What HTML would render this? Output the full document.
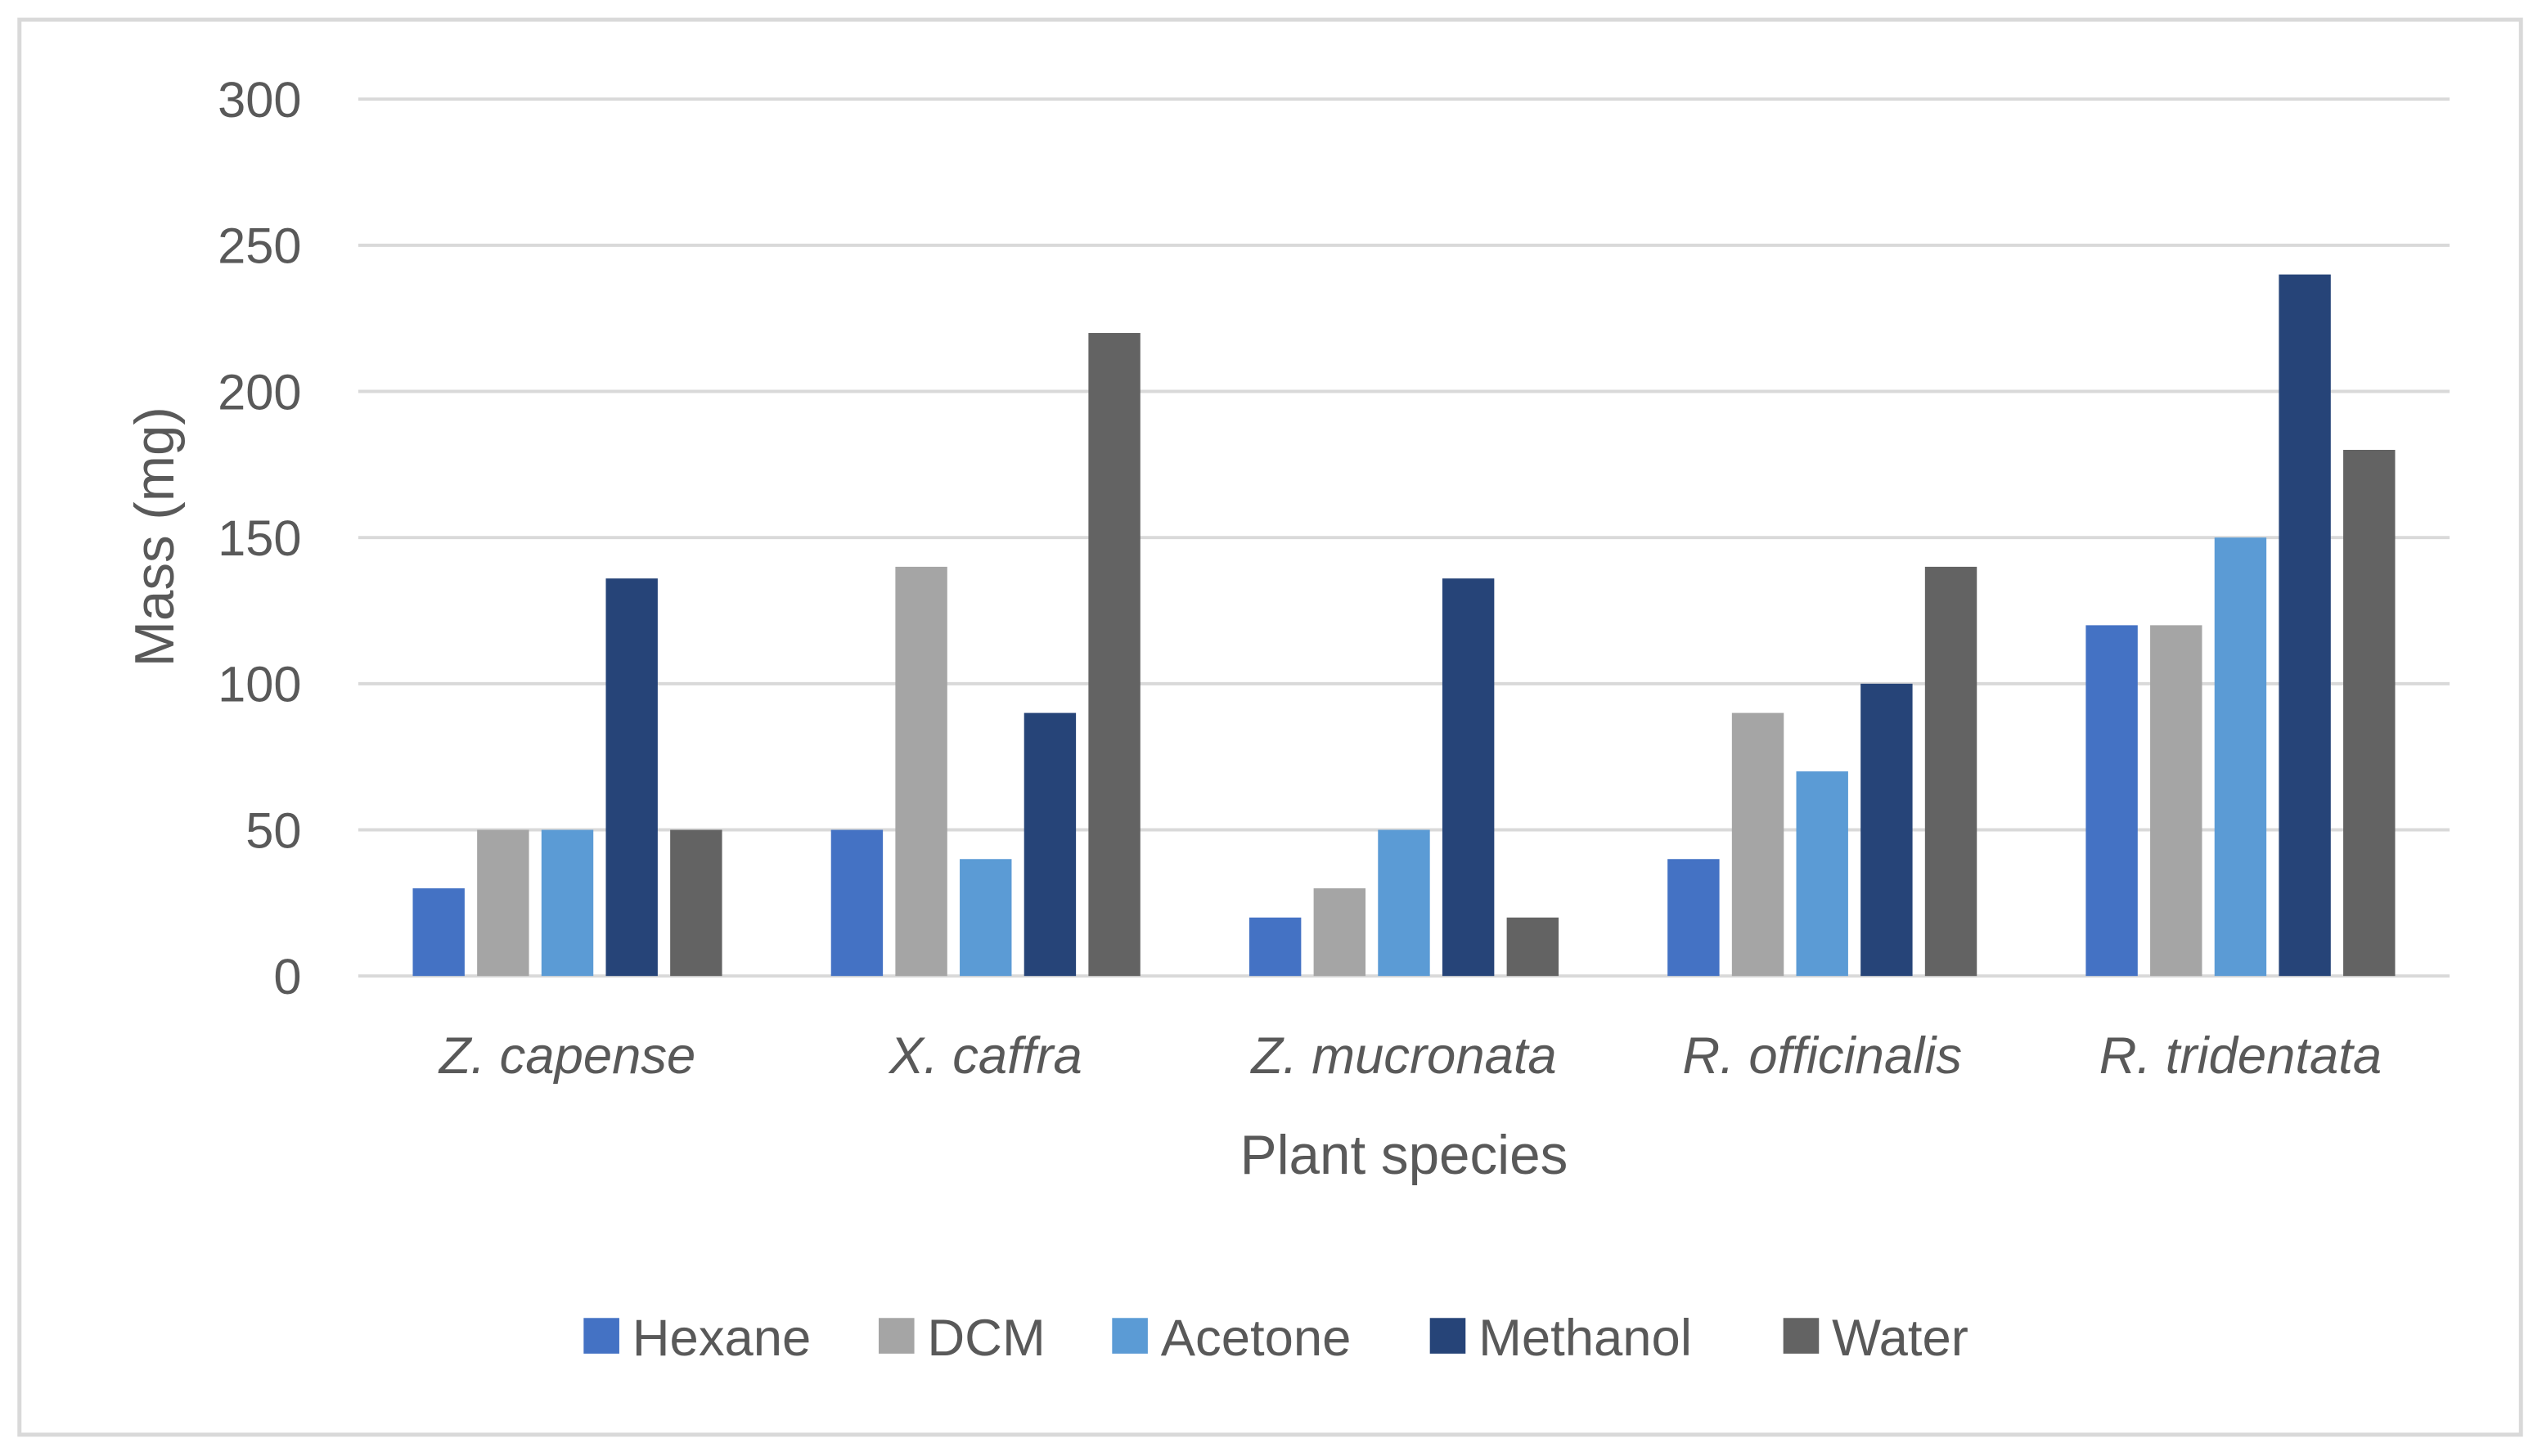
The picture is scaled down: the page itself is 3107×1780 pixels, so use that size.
<!DOCTYPE html>
<html><head><meta charset="utf-8"><style>
html,body{margin:0;padding:0;background:#fff}
svg{display:block}
text{font-family:"Liberation Sans",sans-serif;fill:#595959}
</style></head><body>
<svg id="chart" width="3107" height="1780" viewBox="0 0 1568 898" xmlns="http://www.w3.org/2000/svg">
<rect x="12" y="12" width="1543" height="873" fill="#fff" stroke="#d9d9d9" stroke-width="2.5"/>
<g id="grid"></g><g id="bars"></g><g id="labels"></g><g id="legend"></g>
<text x="866" y="724" font-size="34" text-anchor="middle">Plant species</text>
<text transform="translate(107,331) rotate(-90)" font-size="34" text-anchor="middle">Mass (mg)</text>
</svg>
<script>
const categories=["Z. capense","X. caffra","Z. mucronata","R. officinalis","R. tridentata"];
const seriesNames=["Hexane","DCM","Acetone","Methanol","Water"];
const hexane=[30,50,20,40,120];
const dcm=[50,140,30,90,120];
const acetone=[50,40,50,70,150];
const methanol=[136,90,136,100,240];
const water=[50,220,20,140,180];
const yTicks=[0,50,100,150,200,250,300];
const series=[hexane,dcm,acetone,methanol,water];
const colors=["#4472C4","#A5A5A5","#5B9BD5","#264478","#636363"];
const NS="http://www.w3.org/2000/svg";
const x0=221,x1=1511,yBase=602,yTop=61,yMax=300;
const y=v=>yBase-(v/yMax)*(yBase-yTop);
const gw=(x1-x0)/categories.length;
const bw=32,pitch=39.7;
function el(t,a,p){const e=document.createElementNS(NS,t);for(const k in a)e.setAttribute(k,a[k]);document.getElementById(p).appendChild(e);return e;}
yTicks.forEach(v=>{
  const l=el('line',{x1:x0,x2:x1,y1:y(v),y2:y(v),stroke:'#d9d9d9','stroke-width':2},'grid');
  
  
  const t=el('text',{x:186,y:y(v)+11,'font-size':31,'text-anchor':'end'},'labels');
  t.textContent=v;
  
  
});
categories.forEach((c,i)=>{
  const cx=x0+gw*(i+0.5);
  series.forEach((s,j)=>{
    const bx=cx+(j-2)*pitch-bw/2;
    const r=el('rect',{x:bx,y:y(s[i]),width:bw,height:yBase-y(s[i]),fill:colors[j]},'bars');
    
    
  });
  const t=el('text',{x:cx,y:662,'font-size':32,'font-style':'italic','text-anchor':'middle'},'labels');
  t.textContent=c;
  
  
});
const legX=[360,542,686,882,1100];
seriesNames.forEach((n,j)=>{
  const r=el('rect',{x:legX[j],y:813,width:22,height:22,fill:colors[j]},'legend');
  
  
  const t=el('text',{x:legX[j]+30,y:836,'font-size':32},'legend');
  t.textContent=n;
  
  
});
</script>
</body></html>
